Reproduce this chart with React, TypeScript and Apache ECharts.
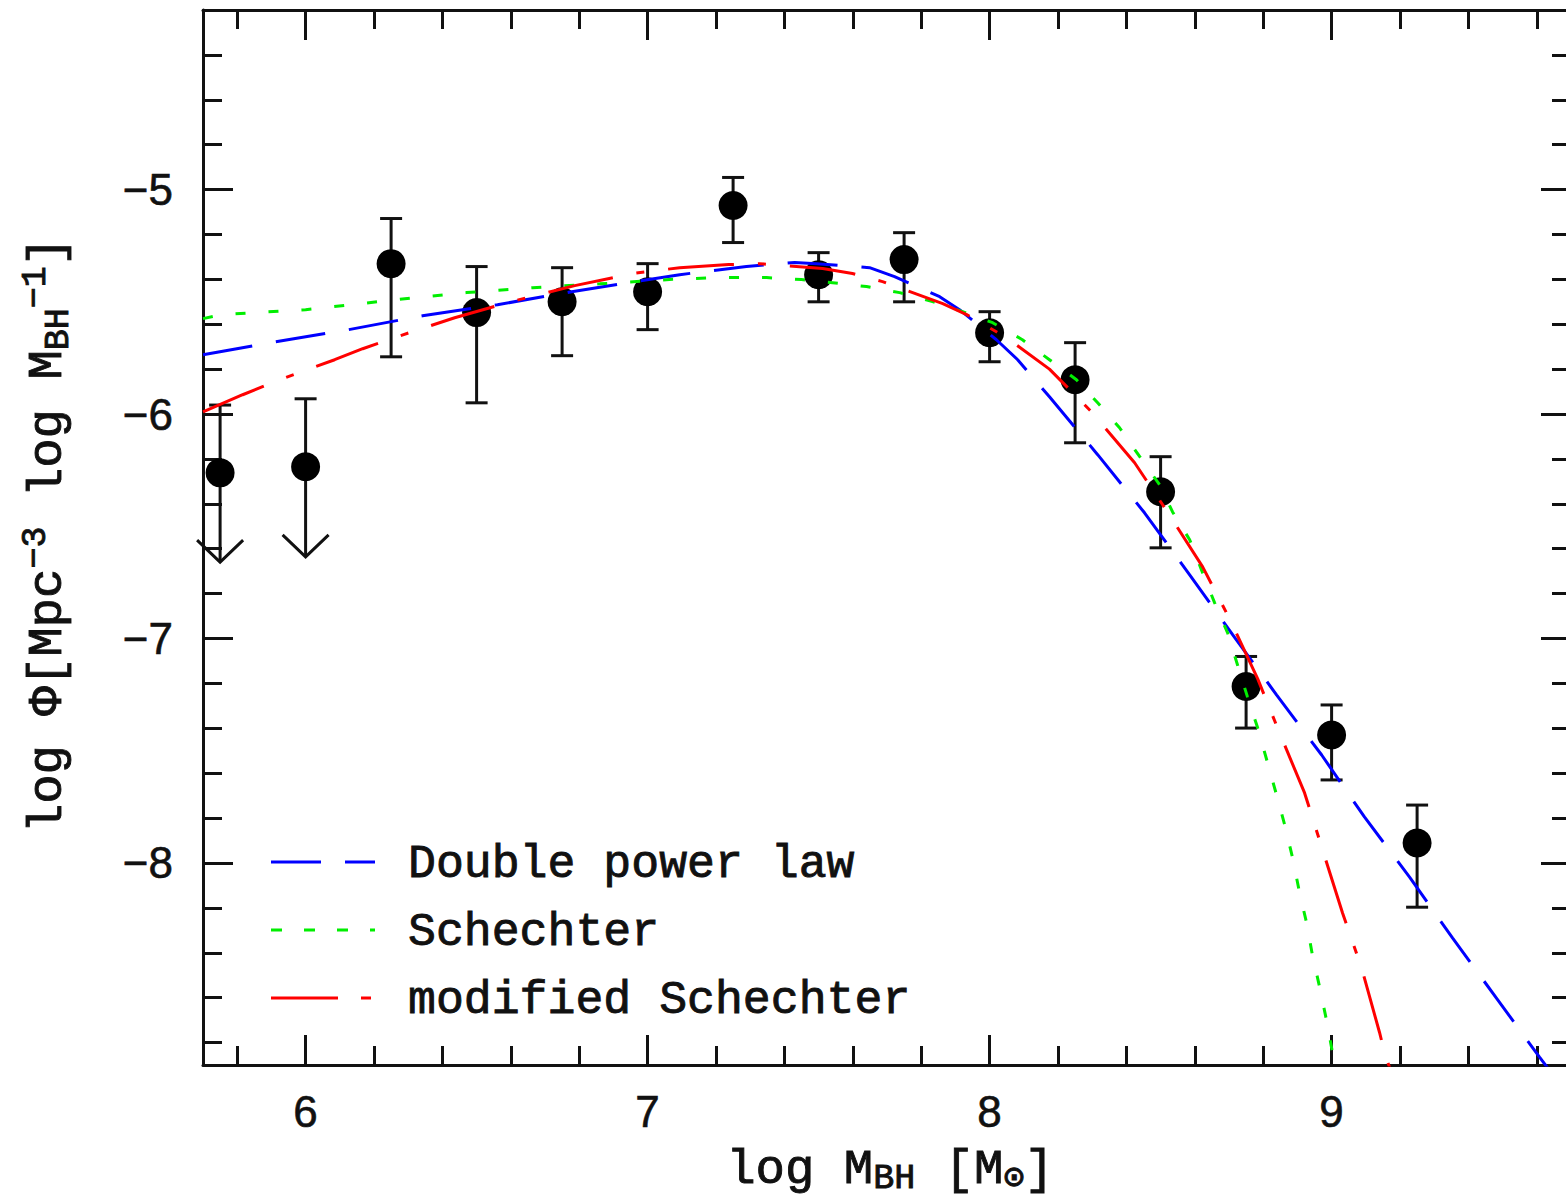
import React, { useEffect, useRef } from 'react';
import * as echarts from 'echarts';

// ---- data ----
const pointX = [6.25, 6.5, 6.75, 7.0, 7.25, 7.5, 7.75, 8.0, 8.25, 8.5, 8.75, 9.0, 9.25];
const pointY = [-5.33, -5.548, -5.5, -5.455, -5.071, -5.379, -5.312, -5.638, -5.847, -6.346, -7.214, -7.43, -7.911];
const errLow = [-5.745, -5.95, -5.74, -5.624, -5.236, -5.5, -5.5, -5.767, -6.128, -6.596, -7.399, -7.63, -8.197];
const errHigh = [-5.129, -5.343, -5.348, -5.33, -4.946, -5.281, -5.192, -5.544, -5.682, -6.19, -7.08, -7.296, -7.742];

const limitX = [5.75, 6.0];
const limitY = [-6.262, -6.235];
const limitCap = [-5.96, -5.932];
const limitTip = [-6.66, -6.636];

const dplX = [5.7, 5.766, 5.912, 6.126, 6.342, 6.561, 6.778, 7.094, 7.289, 7.43, 7.494, 7.649, 7.722, 7.854, 7.912, 8.02, 8.082, 8.175, 8.316, 8.453, 8.585, 8.711, 8.839, 8.971, 9.096, 9.228, 9.354, 9.482, 9.608, 9.66];
const dplY = [-5.736, -5.718, -5.678, -5.624, -5.562, -5.513, -5.455, -5.379, -5.343, -5.325, -5.33, -5.348, -5.388, -5.477, -5.535, -5.669, -5.758, -5.923, -6.181, -6.44, -6.716, -6.984, -7.251, -7.519, -7.795, -8.063, -8.335, -8.602, -8.865, -8.97];

const schX = [5.7, 5.754, 6.0, 6.269, 6.471, 6.664, 6.86, 7.073, 7.2, 7.348, 7.45, 7.541, 7.64, 7.737, 7.833, 7.921, 8.009, 8.096, 8.175, 8.254, 8.316, 8.38, 8.439, 8.497, 8.535, 8.585, 8.623, 8.658, 8.696, 8.725, 8.754, 8.784, 8.813, 8.839, 8.863, 8.886, 8.906, 8.927, 8.944, 8.965, 8.985, 9.003, 9.012];
const schY = [-5.575, -5.557, -5.535, -5.49, -5.459, -5.437, -5.42, -5.4, -5.392, -5.392, -5.401, -5.415, -5.432, -5.459, -5.499, -5.544, -5.593, -5.669, -5.758, -5.847, -5.95, -6.061, -6.19, -6.315, -6.436, -6.56, -6.708, -6.841, -6.975, -7.118, -7.26, -7.399, -7.555, -7.697, -7.831, -7.978, -8.13, -8.268, -8.411, -8.553, -8.7, -8.848, -8.93];

const modX = [5.7, 5.816, 5.909, 6.085, 6.167, 6.251, 6.436, 6.602, 6.787, 6.956, 7.094, 7.237, 7.327, 7.512, 7.599, 7.687, 7.863, 7.933, 8.05, 8.175, 8.298, 8.424, 8.52, 8.623, 8.702, 8.784, 8.848, 8.921, 8.974, 9.032, 9.088, 9.14, 9.158, 9.18];
const modY = [-5.99, -5.914, -5.856, -5.758, -5.709, -5.664, -5.571, -5.499, -5.428, -5.374, -5.348, -5.334, -5.33, -5.352, -5.374, -5.41, -5.508, -5.557, -5.66, -5.8, -5.99, -6.217, -6.436, -6.681, -6.913, -7.18, -7.421, -7.688, -7.943, -8.223, -8.469, -8.754, -8.865, -8.95];

const xMajor = [6, 7, 8, 9];
const xMinor = [5.8, 6.2, 6.4, 6.6, 6.8, 7.2, 7.4, 7.6, 7.8, 8.2, 8.4, 8.6, 8.8, 9.2, 9.4, 9.6];
const yMajor = [-8, -7, -6, -5];
const yMinor = [-8.8, -8.6, -8.4, -8.2, -7.8, -7.6, -7.4, -7.2, -6.8, -6.6, -6.4, -6.2, -5.8, -5.6, -5.4, -5.2, -4.8, -4.6, -4.4];

const legendNames = ['Double power law', 'Schechter', 'modified Schechter'];

const X_MIN = 5.7, X_MAX = 9.7, Y_MIN = -8.9, Y_MAX = -4.2;
const INK = '#111';
const MONO = '"Liberation Mono", monospace';
const SANS = '"Liberation Sans", Arial, sans-serif';

const zip = (xs: number[], ys: number[]) => xs.map((x, i) => [x, ys[i]]);
const fmt = (v: number) => (v < 0 ? '\u2212' + Math.abs(v) : String(v));

function xAxis(position: string, ticks: number[], len: number, labels: boolean, line: boolean) {
  return {
    type: 'value', position, min: X_MIN, max: X_MAX,
    axisLine: { show: line, onZero: false, lineStyle: { color: INK, width: 3 } },
    axisTick: { show: true, inside: true, length: len, customValues: ticks, lineStyle: { color: INK, width: 3 } },
    axisLabel: labels
      ? { show: true, customValues: ticks, margin: 24, fontSize: 44, fontFamily: SANS, color: INK, textBorderColor: INK, textBorderWidth: 0.6, formatter: fmt }
      : { show: false },
    splitLine: { show: false },
  };
}
function yAxis(position: string, ticks: number[], len: number, labels: boolean, line: boolean) {
  return {
    type: 'value', position, min: Y_MIN, max: Y_MAX,
    axisLine: { show: line, onZero: false, lineStyle: { color: INK, width: 3 } },
    axisTick: { show: true, inside: true, length: len, customValues: ticks, lineStyle: { color: INK, width: 3 } },
    axisLabel: labels
      ? { show: true, customValues: ticks, margin: 30, fontSize: 44, fontFamily: SANS, color: INK, textBorderColor: INK, textBorderWidth: 0.6, formatter: fmt }
      : { show: false },
    splitLine: { show: false },
  };
}

export default function App() {
  const ref = useRef<HTMLDivElement>(null);
  useEffect(() => {
    if (!ref.current) return;
    const chart = echarts.init(ref.current, null, { renderer: 'svg' });
    const seg = (x1: number, y1: number, x2: number, y2: number) => ({
      type: 'line', shape: { x1, y1, x2, y2 }, style: { stroke: INK, lineWidth: 3 },
    });
    const legendY = [862, 930, 998];
    const legendStyles = [
      { stroke: '#0000ff', lineDash: [50, 24] },
      { stroke: '#00ee00', lineDash: [11, 22] },
      { stroke: '#ff0000', lineDash: [67, 23, 10, 23] },
    ];
    const textInk = { fill: INK, stroke: INK, lineWidth: 0.9 };
    const option: any = {
      animation: false,
      grid: { left: 203, top: 10, width: 1368, height: 1055, containLabel: false },
      xAxis: [
        xAxis('bottom', xMajor, 30, true, true),
        xAxis('bottom', xMinor, 19, false, false),
        xAxis('top', xMajor, 30, false, true),
        xAxis('top', xMinor, 19, false, false),
      ],
      yAxis: [
        yAxis('left', yMajor, 30, true, true),
        yAxis('left', yMinor, 19, false, false),
        yAxis('right', yMajor, 30, false, true),
        yAxis('right', yMinor, 19, false, false),
      ],
      series: [
        {
          type: 'custom', name: 'errors', z: 2,
          data: pointX.map((x, i) => [x, errLow[i], errHigh[i]]),
          encode: { x: 0, y: [1, 2] },
          renderItem: (params: any, api: any) => {
            const x = api.value(0);
            const lo = api.coord([x, api.value(1)]);
            const hi = api.coord([x, api.value(2)]);
            const w = 11;
            return {
              type: 'group',
              children: [
                seg(hi[0], hi[1], lo[0], lo[1]),
                seg(hi[0] - w, hi[1], hi[0] + w, hi[1]),
                seg(lo[0] - w, lo[1], lo[0] + w, lo[1]),
              ],
            };
          },
        },
        {
          type: 'custom', name: 'limits', z: 2,
          data: limitX.map((x, i) => [x, limitCap[i], limitTip[i]]),
          encode: { x: 0, y: [1, 2] },
          renderItem: (params: any, api: any) => {
            const x = api.value(0);
            const cap = api.coord([x, api.value(1)]);
            const tip = api.coord([x, api.value(2)]);
            const w = 11;
            return {
              type: 'group',
              children: [
                seg(cap[0], cap[1], tip[0], tip[1]),
                seg(cap[0] - w, cap[1], cap[0] + w, cap[1]),
                {
                  type: 'polyline',
                  shape: { points: [[tip[0] - 23, tip[1] - 22], [tip[0], tip[1]], [tip[0] + 23, tip[1] - 22]] },
                  style: { stroke: INK, lineWidth: 3, fill: 'none' },
                },
              ],
            };
          },
        },
        {
          type: 'scatter', name: 'data', z: 3,
          symbol: 'circle', symbolSize: 29,
          itemStyle: { color: '#000', opacity: 1 },
          data: zip(pointX, pointY).concat(zip(limitX, limitY)),
        },
        {
          type: 'line', name: legendNames[0], z: 4, showSymbol: false, symbol: 'none',
          data: zip(dplX, dplY),
          lineStyle: { color: '#0000ff', width: 3, type: [50, 24] },
        },
        {
          type: 'line', name: legendNames[1], z: 4, showSymbol: false, symbol: 'none',
          data: zip(schX, schY),
          lineStyle: { color: '#00ee00', width: 3, type: [10, 23] },
        },
        {
          type: 'line', name: legendNames[2], z: 4, showSymbol: false, symbol: 'none',
          data: zip(modX, modY),
          lineStyle: { color: '#ff0000', width: 3, type: [66, 24, 8, 24] },
        },
      ],
      graphic: [
        ...legendNames.flatMap((name, i) => [
          {
            type: 'line', z: 10,
            shape: { x1: 271, y1: legendY[i], x2: 375, y2: legendY[i] },
            style: { ...legendStyles[i], lineWidth: 3 },
          },
          {
            type: 'text', z: 10, x: 408, y: legendY[i] + 2,
            style: { text: name, fontSize: 46.5, fontFamily: MONO, ...textInk, align: 'left', verticalAlign: 'middle' },
          },
        ]),
        {
          type: 'text', z: 10, x: 890, y: 1170,
          style: {
            text: '{a|log M}{sub|BH}{a| [M}{sub|\u2299}{a|]}',
            align: 'center', verticalAlign: 'middle', ...textInk,
            rich: {
              a: { fontSize: 49, fontFamily: MONO, ...textInk },
              sub: { fontSize: 35, fontFamily: MONO, ...textInk, padding: [18, 0, 0, 0] },
            },
          },
        },
        {
          type: 'text', z: 10, x: 48, y: 535, rotation: Math.PI / 2,
          style: {
            text: '{a|log \u03A6[Mpc}{sup|\u22123}{a| log M}{sub|BH}{sup|\u22121}{a|]}',
            align: 'center', verticalAlign: 'middle', ...textInk,
            rich: {
              a: { fontSize: 49, fontFamily: MONO, ...textInk },
              sub: { fontSize: 35, fontFamily: MONO, ...textInk, padding: [22, 0, 0, 0] },
              sup: { fontSize: 35, fontFamily: MONO, ...textInk, padding: [0, 0, 24, 0] },
            },
          },
        },
      ],
    };
    chart.setOption(option);
    return () => chart.dispose();
  }, []);
  return (
    <div style={{ position: 'fixed', left: 0, top: 0, width: 1566, height: 1203, overflow: 'hidden', background: '#fff' }}>
      <div ref={ref} style={{ width: 1600, height: 1203 }} />
    </div>
  );
}
